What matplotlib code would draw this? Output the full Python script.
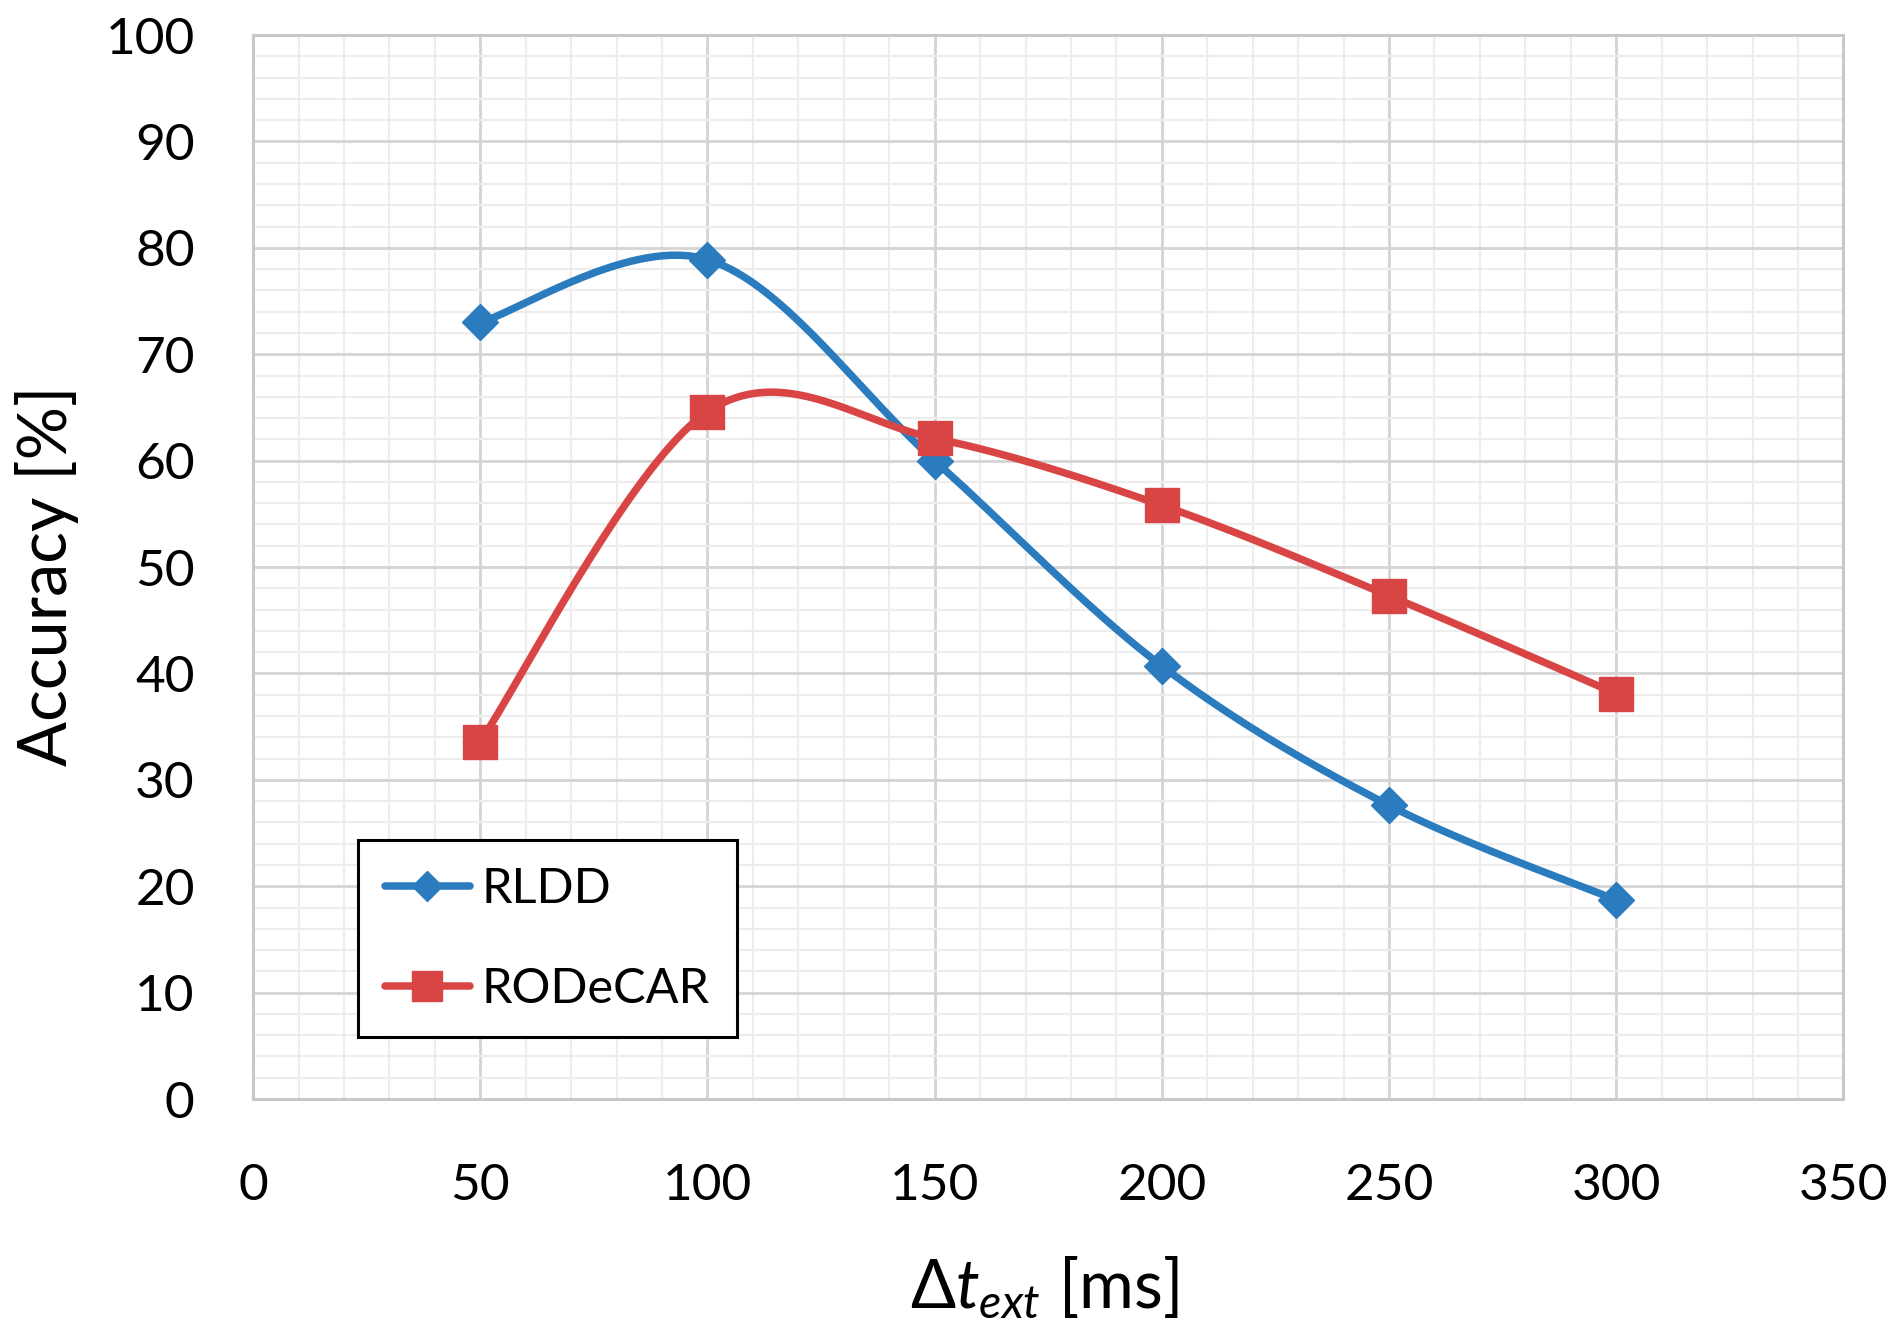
import numpy as np
import matplotlib
matplotlib.use("Agg")
import matplotlib.pyplot as plt
from matplotlib.lines import Line2D

# data
dt_ext = [50, 100, 150, 200, 250, 300]
rldd = [73.0, 78.9, 60.0, 40.7, 27.6, 18.7]
rodecar = [33.6, 64.6, 62.1, 55.8, 47.3, 38.1]
series_names = ["RLDD", "RODeCAR"]

BLUE = "#2B7BBF"
RED = "#D94545"

plt.rcParams['font.family'] = ['Lato', 'DejaVu Sans']
plt.rcParams['mathtext.fontset'] = 'custom'
plt.rcParams['mathtext.rm'] = 'Lato'
plt.rcParams['mathtext.it'] = 'Lato:italic'


def smooth(xs, ys, n=40):
    #Excel style smoothed line: cubic bezier through the points,
    #control points from the neighbours (catmull-rom, 1/6 tangent)
    p = np.column_stack([xs, ys]).astype(float)
    p = np.vstack([p[0], p, p[-1]])
    out = []
    t = np.linspace(0, 1, n)[:, None]
    for i in range(1, len(p) - 2):
        a = p[i]
        d = p[i + 1]
        b = a + (p[i + 1] - p[i - 1]) / 6.0
        c = d - (p[i + 2] - p[i]) / 6.0
        seg = ((1 - t)**3) * a + 3 * ((1 - t)**2) * t * b + 3 * (1 - t) * t**2 * c + t**3 * d
        out.append(seg if i == 1 else seg[1:])
    out = np.vstack(out)
    return out[:, 0], out[:, 1]


fig = plt.figure(figsize=(19, 13.38), dpi=100)
ax = fig.add_axes([0.1332, 0.1786, 0.837, 0.7952])

lw = 5.4
sx, sy = smooth(dt_ext, rldd)
ax.plot(sx, sy, color=BLUE, lw=lw, solid_capstyle='round', zorder=3)
ax.plot(dt_ext, rldd, ls='none', marker='D', ms=18, color=BLUE, zorder=4)
sx, sy = smooth(dt_ext, rodecar)
ax.plot(sx, sy, color=RED, lw=lw, solid_capstyle='round', zorder=3)
ax.plot(dt_ext, rodecar, ls='none', marker='s', ms=24, color=RED, zorder=4)

ax.set_xlim(0, 350)
ax.set_ylim(0, 100)
ax.set_xticks(np.arange(0, 351, 50))
ax.set_yticks(np.arange(0, 101, 10))
ax.set_xticks(np.arange(0, 351, 10), minor=True)
ax.set_yticks(np.arange(0, 101, 2), minor=True)
ax.grid(which='major', color='#D4D4D4', lw=2.0, zorder=0)
ax.grid(which='minor', color='#EDEDED', lw=1.6, zorder=0)
ax.set_axisbelow(True)
for s in ax.spines.values():
    s.set_color('#C8C8C8')
    s.set_linewidth(2.2)

ax.tick_params(which='both', length=0)
ax.tick_params(axis='y', labelsize=37, pad=42)
ax.tick_params(axis='x', labelsize=37, pad=46)

ax.set_ylabel("Accuracy [%]", fontsize=48)
ax.yaxis.set_label_coords(-0.1296, 0.492)
ax.yaxis.label.set_va('center')
ax.set_xlabel(r"Δ$t_{ext}$ [ms]", fontsize=48)
ax.xaxis.set_label_coords(0.4975, -0.1767)
ax.xaxis.label.set_va('center')

handles = [
    Line2D([], [], color=BLUE, lw=lw, marker='D', ms=15, solid_capstyle='round'),
    Line2D([], [], color=RED, lw=lw, marker='s', ms=22, solid_capstyle='round'),
]
leg = ax.legend(handles, series_names, loc='upper left', bbox_to_anchor=(0.066, 0.2434),
                borderaxespad=0, fontsize=35, frameon=True, fancybox=False,
                handlelength=1.75, handletextpad=0.25, labelspacing=1.15,
                borderpad=0.55)
leg.get_frame().set_edgecolor('black')
leg.get_frame().set_linewidth(2.2)
leg.get_frame().set_alpha(1)

fig.savefig("out.png", dpi=100, facecolor='white')
